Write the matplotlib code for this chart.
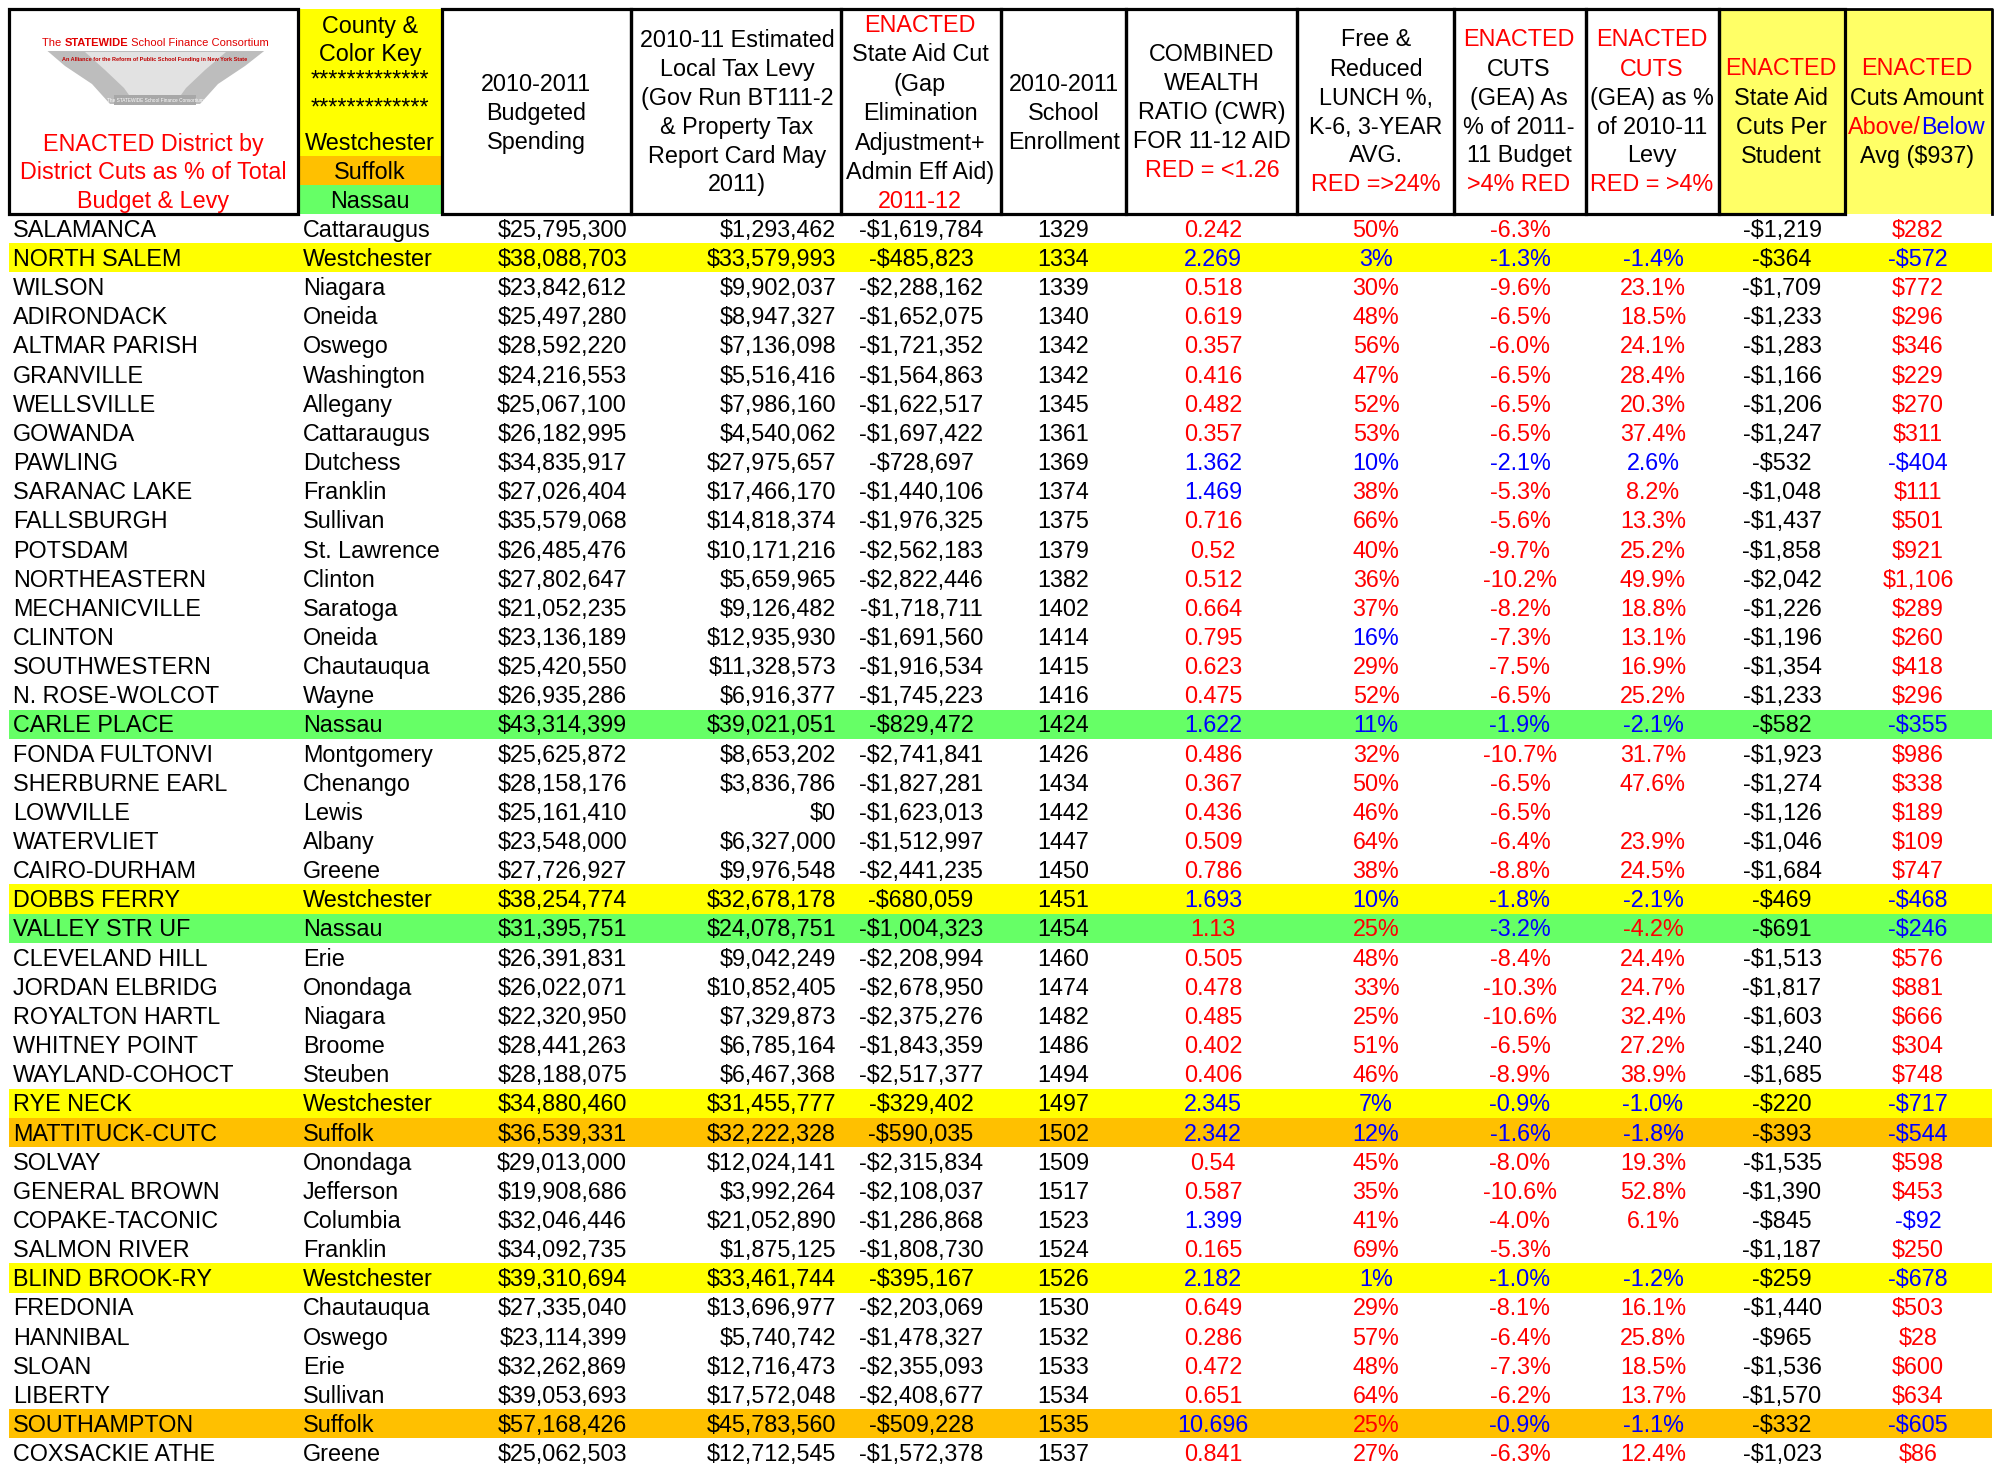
import matplotlib
matplotlib.use("Agg")
import matplotlib.pyplot as plt
from matplotlib.patches import Rectangle, Polygon

plt.rcParams['font.family'] = ['Liberation Sans', 'DejaVu Sans']

RED = '#FF0000'
BLUE = '#0000FF'

districts = ["SALAMANCA", "NORTH SALEM", "WILSON", "ADIRONDACK", "ALTMAR PARISH", "GRANVILLE",
             "WELLSVILLE", "GOWANDA", "PAWLING", "SARANAC LAKE", "FALLSBURGH", "POTSDAM",
             "NORTHEASTERN", "MECHANICVILLE", "CLINTON", "SOUTHWESTERN", "N. ROSE-WOLCOT",
             "CARLE PLACE", "FONDA FULTONVI", "SHERBURNE EARL", "LOWVILLE", "WATERVLIET",
             "CAIRO-DURHAM", "DOBBS FERRY", "VALLEY STR UF", "CLEVELAND HILL", "JORDAN ELBRIDG",
             "ROYALTON HARTL", "WHITNEY POINT", "WAYLAND-COHOCT", "RYE NECK", "MATTITUCK-CUTC",
             "SOLVAY", "GENERAL BROWN", "COPAKE-TACONIC", "SALMON RIVER", "BLIND BROOK-RY",
             "FREDONIA", "HANNIBAL", "SLOAN", "LIBERTY", "SOUTHAMPTON", "COXSACKIE ATHE"]
counties = ["Cattaraugus", "Westchester", "Niagara", "Oneida", "Oswego", "Washington",
            "Allegany", "Cattaraugus", "Dutchess", "Franklin", "Sullivan", "St. Lawrence",
            "Clinton", "Saratoga", "Oneida", "Chautauqua", "Wayne", "Nassau", "Montgomery",
            "Chenango", "Lewis", "Albany", "Greene", "Westchester", "Nassau", "Erie",
            "Onondaga", "Niagara", "Broome", "Steuben", "Westchester", "Suffolk", "Onondaga",
            "Jefferson", "Columbia", "Franklin", "Westchester", "Chautauqua", "Oswego", "Erie",
            "Sullivan", "Suffolk", "Greene"]
budget = [25795300, 38088703, 23842612, 25497280, 28592220, 24216553, 25067100, 26182995,
          34835917, 27026404, 35579068, 26485476, 27802647, 21052235, 23136189, 25420550,
          26935286, 43314399, 25625872, 28158176, 25161410, 23548000, 27726927, 38254774,
          31395751, 26391831, 26022071, 22320950, 28441263, 28188075, 34880460, 36539331,
          29013000, 19908686, 32046446, 34092735, 39310694, 27335040, 23114399, 32262869,
          39053693, 57168426, 25062503]
levy = [1293462, 33579993, 9902037, 8947327, 7136098, 5516416, 7986160, 4540062, 27975657,
        17466170, 14818374, 10171216, 5659965, 9126482, 12935930, 11328573, 6916377, 39021051,
        8653202, 3836786, 0, 6327000, 9976548, 32678178, 24078751, 9042249, 10852405, 7329873,
        6785164, 6467368, 31455777, 32222328, 12024141, 3992264, 21052890, 1875125, 33461744,
        13696977, 5740742, 12716473, 17572048, 45783560, 12712545]
aid_cut = [-1619784, -485823, -2288162, -1652075, -1721352, -1564863, -1622517, -1697422,
           -728697, -1440106, -1976325, -2562183, -2822446, -1718711, -1691560, -1916534,
           -1745223, -829472, -2741841, -1827281, -1623013, -1512997, -2441235, -680059,
           -1004323, -2208994, -2678950, -2375276, -1843359, -2517377, -329402, -590035,
           -2315834, -2108037, -1286868, -1808730, -395167, -2203069, -1478327, -2355093,
           -2408677, -509228, -1572378]
enroll = [1329, 1334, 1339, 1340, 1342, 1342, 1345, 1361, 1369, 1374, 1375, 1379, 1382, 1402,
          1414, 1415, 1416, 1424, 1426, 1434, 1442, 1447, 1450, 1451, 1454, 1460, 1474, 1482,
          1486, 1494, 1497, 1502, 1509, 1517, 1523, 1524, 1526, 1530, 1532, 1533, 1534, 1535, 1537]
cwr = [0.242, 2.269, 0.518, 0.619, 0.357, 0.416, 0.482, 0.357, 1.362, 1.469, 0.716, 0.52,
       0.512, 0.664, 0.795, 0.623, 0.475, 1.622, 0.486, 0.367, 0.436, 0.509, 0.786, 1.693,
       1.13, 0.505, 0.478, 0.485, 0.402, 0.406, 2.345, 2.342, 0.54, 0.587, 1.399, 0.165,
       2.182, 0.649, 0.286, 0.472, 0.651, 10.696, 0.841]
lunch = [50, 3, 30, 48, 56, 47, 52, 53, 10, 38, 66, 40, 36, 37, 16, 29, 52, 11, 32, 50, 46, 64,
         38, 10, 25, 48, 33, 25, 51, 46, 7, 12, 45, 35, 41, 69, 1, 29, 57, 48, 64, 25, 27]
budget_cut_pct = [-6.3, -1.3, -9.6, -6.5, -6.0, -6.5, -6.5, -6.5, -2.1, -5.3, -5.6, -9.7, -10.2,
                  -8.2, -7.3, -7.5, -6.5, -1.9, -10.7, -6.5, -6.5, -6.4, -8.8, -1.8, -3.2, -8.4,
                  -10.3, -10.6, -6.5, -8.9, -0.9, -1.6, -8.0, -10.6, -4.0, -5.3, -1.0, -8.1,
                  -6.4, -7.3, -6.2, -0.9, -6.3]
levy_cut_pct = [None, -1.4, 23.1, 18.5, 24.1, 28.4, 20.3, 37.4, 2.6, 8.2, 13.3, 25.2, 49.9, 18.8,
                13.1, 16.9, 25.2, -2.1, 31.7, 47.6, None, 23.9, 24.5, -2.1, -4.2, 24.4, 24.7,
                32.4, 27.2, 38.9, -1.0, -1.8, 19.3, 52.8, 6.1, None, -1.2, 16.1, 25.8, 18.5,
                13.7, -1.1, 12.4]
per_student = [-1219, -364, -1709, -1233, -1283, -1166, -1206, -1247, -532, -1048, -1437, -1858,
               -2042, -1226, -1196, -1354, -1233, -582, -1923, -1274, -1126, -1046, -1684, -469,
               -691, -1513, -1817, -1603, -1240, -1685, -220, -393, -1535, -1390, -845, -1187,
               -259, -1440, -965, -1536, -1570, -332, -1023]
vs_avg = [282, -572, 772, 296, 346, 229, 270, 311, -404, 111, 501, 921, 1106, 289, 260, 418, 296,
          -355, 986, 338, 189, 109, 747, -468, -246, 576, 881, 666, 304, 748, -717, -544, 598,
          453, -92, 250, -678, 503, 28, 600, 634, -605, 86]

county_colors = {"Westchester": "#FFFF00", "Suffolk": "#FFC000", "Nassau": "#66FF66"}


def money(v):
    return ("-" if v < 0 else "") + "${:,}".format(abs(v))


fig = plt.figure(figsize=(20.07, 14.65), dpi=100)
ax = fig.add_axes([0, 0, 1, 1])
ax.set_xlim(0, 2007)
ax.set_ylim(1465, 0)
ax.axis('off')
renderer = fig.canvas.get_renderer()

FS = 16.8
HTOP, HBOT = 9, 214
ROW_H = 29.15
LEFT, RIGHT = 9, 1992

# ---- header ----
edges = [9, 298, 442, 631, 841, 1001, 1126, 1297, 1454, 1586, 1719, 1845, 1992]

# county colour key column
ax.add_patch(Rectangle((298, HTOP), 144, 147, facecolor='#FFFF00', lw=0))
ax.add_patch(Rectangle((298, 156), 144, 29, facecolor='#FFC000', lw=0))
ax.add_patch(Rectangle((298, 185), 144, 29, facecolor='#66FF66', lw=0))
# light yellow per-student columns
ax.add_patch(Rectangle((1719, HTOP), 1992 - 1719, HBOT - HTOP, facecolor='#FFFF66', lw=0))

for i in range(len(edges) - 1):
    if i == 1:
        continue
    x0, x1 = edges[i], edges[i + 1]
    if i == 11:
        ax.plot([x0, x1, x1], [HTOP, HTOP, HBOT], color='black', lw=2.0)
        continue
    ax.add_patch(Rectangle((x0, HTOP), x1 - x0, HBOT - HTOP, fill=False,
                           edgecolor='black', lw=2.3))


def hline(x, y, s, color='black', **kw):
    ax.text(x, y + 8, s, ha='center', va='baseline', fontsize=FS, color=color, **kw)


# logo: grey fan under a red title
fan_outer = Polygon([(44, 48), (268, 48), (245, 66), (218, 84), (200, 104),
                     (110, 104), (92, 84), (65, 66)], closed=True,
                    facecolor='#bdbdbd', edgecolor='none')
fan_inner = Polygon([(85, 52), (226, 52), (205, 70), (186, 88), (176, 102),
                     (134, 102), (124, 88), (105, 70)], closed=True,
                    facecolor='#e2e2e2', edgecolor='none')
ax.add_patch(fan_outer)
ax.add_patch(fan_inner)
ax.add_patch(Rectangle((44, 33), 224, 18, facecolor='white', lw=0))

pieces = [("The ", 'normal'), ("STATEWIDE", 'bold'), (" School Finance Consortium", 'normal')]
widths = []
for s, w in pieces:
    tt = ax.text(0, 0, s, fontsize=10, fontweight=w)
    widths.append(tt.get_window_extent(renderer).width)
    tt.remove()
logo_fs = 10 * 226 / sum(widths)
x = 42
for (s, w), wd in zip(pieces, widths):
    ax.text(x, 46, s, ha='left', va='baseline', fontsize=logo_fs, fontweight=w,
            color='#E00000')
    x += wd * logo_fs / 10
ax.text(155, 60, "An Alliance for the Reform of Public School Funding in New York State",
        ha='center', va='center', fontsize=4.0, color='#C00000', fontweight='bold')
ax.add_patch(Rectangle((114, 95), 82, 10, facecolor='#a8a8a8', lw=0))
ax.text(155, 100, "The STATEWIDE School Finance Consortium", ha='center', va='center',
        fontsize=3.4, color='white')

for y, s in [(143, "ENACTED District by"), (171, "District Cuts as % of Total"),
             (200, "Budget & Levy")]:
    hline(153, y, s, RED)

for y, s in [(25, "County &"), (53, "Color Key"), (79, "*************"),
             (107, "*************"), (142, "Westchester"), (171, "Suffolk"), (200, "Nassau")]:
    hline(370, y, s)

for y, s in [(83, "2010-2011"), (112, "Budgeted"), (141, "Spending")]:
    hline(536, y, s)

for y, s in [(39, "2010-11 Estimated"), (68, "Local Tax Levy"), (97, "(Gov Run BT111-2"),
             (126, "& Property Tax"), (155, "Report Card May"), (183, "2011)")]:
    hline(737, y, s)

for y, s, c in [(24, "ENACTED", RED), (53, "State Aid Cut", 'black'), (83, "(Gap", 'black'),
                (112, "Elimination", 'black'), (142, "Adjustment+", 'black'),
                (171, "Admin Eff Aid)", 'black'), (200, "2011-12", RED)]:
    hline(920, y, s, c)

for y, s in [(83, "2010-2011"), (112, "School"), (141, "Enrollment")]:
    hline(1064, y, s)

for y, s, c in [(53, "COMBINED", 'black'), (82, "WEALTH", 'black'), (111, "RATIO (CWR)", 'black'),
                (140, "FOR 11-12 AID", 'black'), (169, "RED = <1.26", RED)]:
    hline(1212, y, s, c)

for y, s, c in [(38, "Free &", 'black'), (68, "Reduced", 'black'), (97, "LUNCH %,", 'black'),
                (126, "K-6, 3-YEAR", 'black'), (154, "AVG.", 'black'), (183, "RED =>24%", RED)]:
    hline(1376, y, s, c)

for y, s, c in [(38, "ENACTED", RED), (68, "CUTS", 'black'), (97, "(GEA) As", 'black'),
                (126, "% of 2011-", 'black'), (154, "11 Budget", 'black'), (183, ">4% RED", RED)]:
    hline(1519, y, s, c)

for y, s, c in [(38, "ENACTED", RED), (68, "CUTS", RED), (97, "(GEA) as %", 'black'),
                (126, "of 2010-11", 'black'), (154, "Levy", 'black'), (183, "RED = >4%", RED)]:
    hline(1652, y, s, c)

for y, s, c in [(67, "ENACTED", RED), (97, "State Aid", 'black'), (126, "Cuts Per", 'black'),
                (155, "Student", 'black')]:
    hline(1781, y, s, c)

for y, s, c in [(67, "ENACTED", RED), (97, "Cuts Amount", 'black'), (155, "Avg ($937)", 'black')]:
    hline(1917, y, s, c)
ax.text(1921, 126 + 8, "Above/", ha='right', va='baseline', fontsize=FS, color=RED)
ax.text(1921, 126 + 8, "Below", ha='left', va='baseline', fontsize=FS, color=BLUE)

# ---- body ----
for i, name in enumerate(districts):
    top = HBOT + ROW_H * i
    yb = top + ROW_H / 2 + 8.3
    fill = county_colors.get(counties[i])
    if fill:
        ax.add_patch(Rectangle((LEFT, top), RIGHT - LEFT, ROW_H, facecolor=fill, lw=0))

    def t(x, s, ha='center', color='black'):
        ax.text(x, yb, s, ha=ha, va='baseline', fontsize=FS, color=color)

    t(13, name, ha='left')
    t(303, counties[i], ha='left')
    t(627, money(budget[i]), ha='right')
    t(836, money(levy[i]), ha='right')
    t(921, money(aid_cut[i]))
    t(1063, str(enroll[i]))
    t(1213, str(cwr[i]), color=RED if cwr[i] < 1.26 else BLUE)
    t(1376, "%d%%" % lunch[i], color=RED if lunch[i] >= 24 else BLUE)
    t(1520, "%.1f%%" % budget_cut_pct[i], color=RED if budget_cut_pct[i] <= -4.0 else BLUE)
    if levy_cut_pct[i] is not None:
        t(1653, "%.1f%%" % levy_cut_pct[i], color=RED if abs(levy_cut_pct[i]) > 4 else BLUE)
    t(1782, money(per_student[i]))
    t(1918, money(vs_avg[i]), color=RED if vs_avg[i] > 0 else BLUE)

fig.savefig("out.png", dpi=100)
